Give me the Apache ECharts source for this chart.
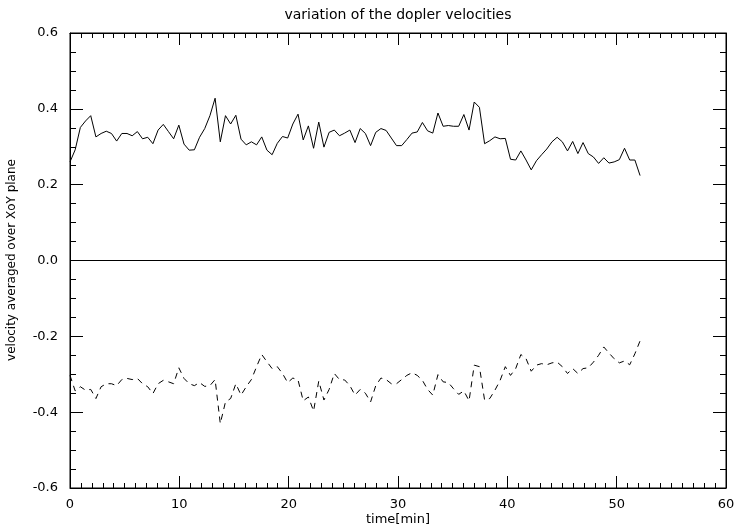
<!DOCTYPE html>
<html>
<head>
<meta charset="utf-8">
<script src="https://cdn.jsdelivr.net/npm/echarts@6/dist/echarts.min.js"></script>
<style>
  html, body { margin: 0; padding: 0; background: #fff; }
  #chart { width: 736px; height: 529px; }
</style>
</head>
<body>
<div id="chart"></div>
<script>
// sampling step of the time series (minutes)
const dt = 0.474

// upper (solid) curve
const solidVel = [
  0.26, 0.292, 0.351, 0.368, 0.382, 0.326, 0.335, 0.341, 0.335, 0.315, 0.335, 0.335, 0.329, 0.34, 0.321, 0.325,
  0.308, 0.344, 0.359, 0.34, 0.321, 0.357, 0.307, 0.291, 0.292, 0.325, 0.348, 0.382, 0.428, 0.313, 0.382,
  0.36, 0.383, 0.32, 0.305, 0.313, 0.305, 0.326, 0.291, 0.279, 0.309, 0.327, 0.323, 0.36, 0.386, 0.318, 0.355,
  0.296, 0.365, 0.299, 0.338, 0.344, 0.329, 0.336, 0.344, 0.311, 0.348, 0.335, 0.303, 0.338, 0.348, 0.343,
  0.323, 0.303, 0.303, 0.319, 0.336, 0.339, 0.364, 0.342, 0.336, 0.389, 0.354, 0.356, 0.354, 0.354, 0.385, 0.344,
  0.418, 0.404, 0.308, 0.316, 0.326, 0.321, 0.322, 0.267, 0.265, 0.289, 0.265, 0.239, 0.263, 0.279, 0.294,
  0.313, 0.325, 0.313, 0.289, 0.314, 0.282, 0.311, 0.282, 0.273, 0.256, 0.271, 0.257, 0.26, 0.266, 0.296, 0.265,
  0.265, 0.224
]

// lower (dashed) curve
const dashedVel = [
  -0.303, -0.344, -0.333, -0.342, -0.34, -0.364, -0.333, -0.325, -0.325, -0.33, -0.314, -0.311, -0.314, -0.311,
  -0.325, -0.333, -0.351, -0.325, -0.316, -0.32, -0.325, -0.283, -0.311, -0.325, -0.33, -0.322, -0.332, -0.33,
  -0.314, -0.43, -0.373, -0.364, -0.325, -0.355, -0.333, -0.314, -0.28, -0.248, -0.267, -0.285, -0.28, -0.298,
  -0.322, -0.31, -0.315, -0.37, -0.36, -0.397, -0.318, -0.368, -0.34, -0.298, -0.314, -0.315, -0.33, -0.355,
  -0.34, -0.35, -0.373, -0.33, -0.31, -0.314, -0.325, -0.325, -0.314, -0.303, -0.296, -0.303, -0.316, -0.34,
  -0.355, -0.301, -0.32, -0.322, -0.338, -0.353, -0.344, -0.37, -0.276, -0.28, -0.368, -0.364, -0.342, -0.316,
  -0.28, -0.303, -0.285, -0.248, -0.259, -0.292, -0.276, -0.272, -0.275, -0.27, -0.268, -0.28, -0.298, -0.285,
  -0.298, -0.285, -0.283, -0.268, -0.25, -0.228, -0.244, -0.259, -0.27, -0.265, -0.275, -0.246, -0.212
]

const fontFamily = 'DejaVu Sans'
const black = '#000'
const clear = 'rgba(0,0,0,0)'

const toPoints = (vals) => vals.map((v, i) => [i * dt, v])

const makeXAxis = (position, extra) => ({
  type: 'value', position, min: 0, max: 60, interval: 10,
  axisLine: { show: true, onZero: false, lineStyle: { color: black, width: 1 } },
  axisTick: { show: true, inside: true, length: 12, lineStyle: { color: black } },
  minorTick: { show: true, splitNumber: 10, length: 5, lineStyle: { color: black } },
  splitLine: { show: false },
  ...extra
})

const makeYAxis = (position, extra) => ({
  type: 'value', position, min: -0.6, max: 0.6, interval: 0.2,
  axisLine: { show: true, onZero: false, lineStyle: { color: black, width: 1 } },
  axisTick: { show: true, inside: true, length: 13, lineStyle: { color: black } },
  minorTick: { show: true, splitNumber: 4, length: 6, lineStyle: { color: black } },
  splitLine: { show: false },
  ...extra
})

// title and axis titles as plain text
const label = (text, x, y, size, rotation) => ({
  type: 'text',
  x,
  y,
  rotation: rotation || 0,
  silent: true,
  style: {
    text,
    fill: black,
    font: size + 'px "' + fontFamily + '"',
    textAlign: 'center',
    textVerticalAlign: 'middle',
    align: 'center',
    verticalAlign: 'middle'
  }
})

const option = {
  animation: false,
  // frame around the plot
  grid: {
    left: 70, right: 10, top: 33, bottom: 41,
    outerBoundsMode: 'none',
    show: true, borderColor: black, borderWidth: 1
  },
  graphic: [
    label('variation of the dopler velocities', 398, 15, 14),
    label('time[min]', 398, 520, 13),
    label('velocity averaged over XoY plane', 12, 260, 12, Math.PI / 2)
  ],
  xAxis: [
    makeXAxis('bottom', {
      axisLabel: { color: black, fontFamily, fontSize: 13, margin: 10 }
    }),
    makeXAxis('top', { axisLabel: { show: false } })
  ],
  yAxis: [
    makeYAxis('left', {
      axisLabel: {
        color: black,
        fontFamily,
        fontSize: 13,
        margin: 12,
        formatter: (v) => v.toFixed(1)
      }
    }),
    // right axis; its split line at 0 gives the zero line
    makeYAxis('right', {
      axisLabel: { show: false },
      splitLine: {
        show: true,
        lineStyle: { width: 1, color: [clear, clear, clear, black, clear, clear, clear] }
      }
    })
  ],
  series: [
    {
      type: 'line',
      data: toPoints(solidVel),
      showSymbol: false,
      lineStyle: { color: black, width: 1 }
    },
    {
      // both axis pairs share the same range
      type: 'line',
      xAxisIndex: 1,
      yAxisIndex: 1,
      data: toPoints(dashedVel),
      showSymbol: false,
      lineStyle: { color: black, width: 1, type: [6, 5] }
    }
  ]
}

const myChart = echarts.init(document.getElementById('chart'))
option && myChart.setOption(option)
</script>
</body>
</html>
